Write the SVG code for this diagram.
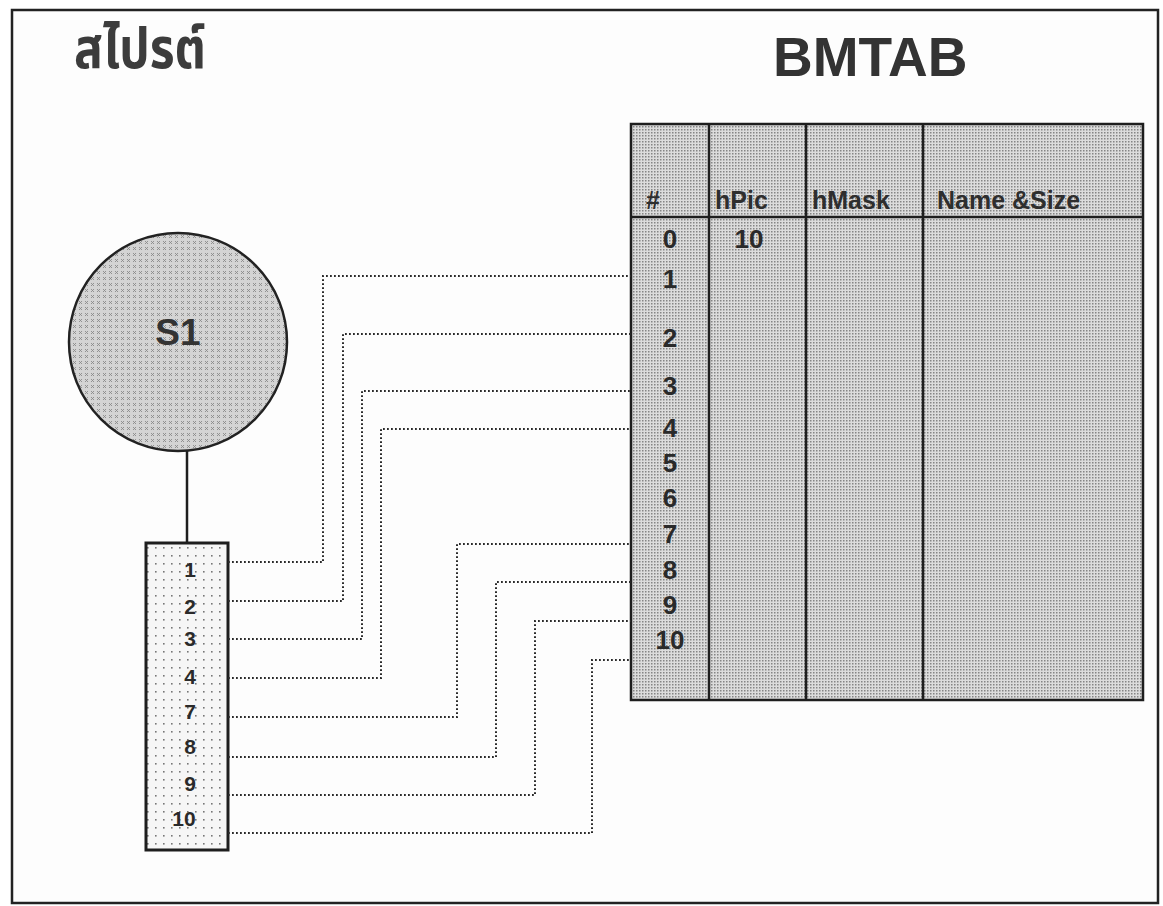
<svg xmlns="http://www.w3.org/2000/svg" width="1163" height="906" viewBox="0 0 1163 906">
  <defs>
    <pattern id="gridFill" width="3" height="3" patternUnits="userSpaceOnUse">
      <rect width="3" height="3" fill="#dcdcdc"/>
      <rect width="1.5" height="1.5" fill="#858585"/>
    </pattern>
    <pattern id="crossFill" width="6" height="6" patternUnits="userSpaceOnUse">
      <rect width="6" height="6" fill="#d4d4d4"/>
      <path d="M1,1 L4,4 M4,1 L1,4" stroke="#8a8a8a" stroke-width="0.9"/>
    </pattern>
    <pattern id="dotFill" width="8" height="8" patternUnits="userSpaceOnUse">
      <rect width="8" height="8" fill="#f6f6f6"/>
      <rect x="3" y="3" width="1.6" height="1.6" fill="#777"/>
    </pattern>
  </defs>
  <style>
    .frame { fill: #fdfdfd; stroke: #222; stroke-width: 2.5; }
    .solid { stroke: #1e1e1e; stroke-width: 2.5; fill: none; }
    .conn { fill: none; stroke: #2a2a2a; stroke-width: 2; stroke-dasharray: 1.8 2.2; }
    .num { font-family: "Liberation Sans", Arial, sans-serif; font-weight: bold; fill: #2a2a2a; text-anchor: middle; }
    .hdr { font-family: "Liberation Sans", Arial, sans-serif; font-weight: bold; font-size: 25px; fill: #2e2e2e; }
  </style>

  <rect class="frame" x="12" y="10" width="1146" height="893"/>

  <g id="title-thai">
    <text x="74" y="68" font-family="'Noto Sans Thai', 'Noto Sans', 'DejaVu Sans', sans-serif" font-weight="bold" font-size="56" fill="#3c3c3c" textLength="132" lengthAdjust="spacingAndGlyphs">สไปรต์</text>
  </g>

  <g id="title-bmtab">
    <text x="773" y="76" font-family="'Liberation Sans', Arial, sans-serif" font-weight="bold" font-size="55" fill="#333">BMTAB</text>
  </g>

  <g id="sprite-s1">
    <circle cx="178" cy="342" r="109" fill="url(#crossFill)" stroke="#222" stroke-width="2.5"/>
    <text x="178" y="345" font-family="'Liberation Sans', Arial, sans-serif" font-weight="bold" font-size="37" fill="#333" text-anchor="middle">S1</text>
  </g>

  <g id="link-s1-list">
    <line class="solid" x1="187" y1="451" x2="187" y2="543"/>
  </g>

  <g id="frame-list">
    <rect x="146" y="543" width="82" height="307" fill="url(#dotFill)" stroke="#1e1e1e" stroke-width="3"/>
    <text class="num" font-size="21" x="190" y="577">1</text>
    <text class="num" font-size="21" x="190" y="614">2</text>
    <text class="num" font-size="21" x="190" y="646">3</text>
    <text class="num" font-size="21" x="190" y="684">4</text>
    <text class="num" font-size="21" x="190" y="719">7</text>
    <text class="num" font-size="21" x="190" y="754">8</text>
    <text class="num" font-size="21" x="190" y="791">9</text>
    <text class="num" font-size="21" x="184" y="826">10</text>
  </g>

  <g id="bmtab-table">
    <rect x="631" y="124" width="512" height="576" fill="url(#gridFill)" stroke="#1e1e1e" stroke-width="2.5"/>
    <line class="solid" x1="631" y1="217" x2="1143" y2="217"/>
    <line class="solid" x1="709" y1="124" x2="709" y2="700"/>
    <line class="solid" x1="806" y1="124" x2="806" y2="700"/>
    <line class="solid" x1="923" y1="124" x2="923" y2="700"/>
    <text class="hdr" x="646" y="209">#</text>
    <text class="hdr" x="715" y="209">hPic</text>
    <text class="hdr" x="812" y="209">hMask</text>
    <text class="hdr" x="937" y="209">Name &amp;Size</text>
    <text class="num" font-size="26" x="670" y="248">0</text>
    <text class="num" font-size="26" x="749" y="248">10</text>
    <text class="num" font-size="26" x="670" y="288">1</text>
    <text class="num" font-size="26" x="670" y="347">2</text>
    <text class="num" font-size="26" x="670" y="395">3</text>
    <text class="num" font-size="26" x="670" y="437">4</text>
    <text class="num" font-size="26" x="670" y="472">5</text>
    <text class="num" font-size="26" x="670" y="507">6</text>
    <text class="num" font-size="26" x="670" y="543">7</text>
    <text class="num" font-size="26" x="670" y="579">8</text>
    <text class="num" font-size="26" x="670" y="614">9</text>
    <text class="num" font-size="26" x="670" y="649">10</text>
  </g>

  <g id="connectors">
    <path class="conn" d="M228,562 H323 V276 H631"/>
    <path class="conn" d="M228,601 H343 V334 H631"/>
    <path class="conn" d="M228,639 H362 V391 H631"/>
    <path class="conn" d="M228,678 H381 V429 H631"/>
    <path class="conn" d="M228,717 H457 V544 H631"/>
    <path class="conn" d="M228,757 H496 V582 H631"/>
    <path class="conn" d="M228,795 H535 V621 H631"/>
    <path class="conn" d="M228,833 H592 V660 H631"/>
  </g>
</svg>
